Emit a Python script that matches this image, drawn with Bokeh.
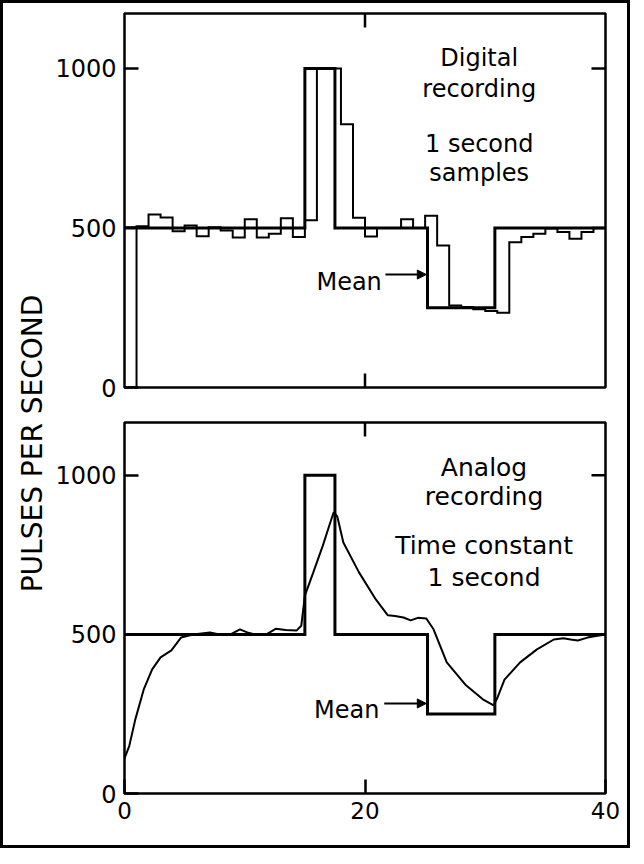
import numpy as np
from bokeh.plotting import figure
from bokeh.models import Range1d, LinearAxis, FixedTicker, Label, Arrow, NormalHead
from bokeh.layouts import row, column
from bokeh.embed import file_html
from bokeh.resources import INLINE

# ---------------- data ----------------
# 1-second digital samples (bin start times, pulses per second)
sample_t = [0, 1, 2, 3, 4, 5, 6, 7, 8, 9, 10, 11, 12, 13, 14, 15, 16, 17, 18, 19,
            20, 21, 22, 23, 24, 25, 26, 27, 28, 29, 30, 31, 32, 33, 34, 35, 36, 37, 38, 39, 40]
sample_v = [0, 505, 542, 533, 490, 508, 474, 502, 492, 470, 527, 470, 482, 530, 472, 524,
            1000, 1000, 825, 532, 473, 500, 500, 527, 500, 538, 445, 257, 252, 245, 240, 234,
            455, 472, 482, 498, 487, 466, 487, 500]

# true mean rate (step function)
mean_t = [0, 15, 17.5, 25.2, 30.8, 40]
mean_v = [500, 1000, 500, 250, 500]

# analog ratemeter trace (time constant 1 s)
analog_t = [0, 0.4, 0.9, 1.6, 2.3, 3.0, 3.9, 4.7, 5.7, 7.1, 7.9, 8.7, 9.6, 10.3, 11.0, 11.8,
            12.6, 13.4, 14.3, 14.7, 15.0, 15.7, 16.5, 17.2, 17.4, 17.7, 18.2, 19.5, 20.9, 21.9,
            22.5, 23.2, 23.8, 24.4, 25.1, 25.7, 26.8, 28.4, 29.8, 30.7, 31.0, 31.6, 32.9, 34.3,
            35.7, 36.5, 37.1, 37.7, 38.5, 39.2, 40.0]
analog_v = [110, 150, 233, 327, 390, 428, 450, 490, 500, 506, 500, 498, 516, 505, 498, 500,
            518, 514, 512, 527, 622, 695, 780, 862, 884, 870, 789, 695, 610, 560,
            558, 553, 544, 552, 550, 516, 412, 340, 296, 277, 300, 358, 412, 453,
            484, 488, 484, 481, 490, 495, 500]

y_ticks = [0, 500, 1000]
y_ticks_right = [500, 1000]
x_ticks = [0, 20, 40]
x_ticks_inner = [20]
x_min, x_max = 0, 40

top_notes = ["Digital", "recording", "1 second", "samples"]
bottom_notes = ["Analog", "recording", "Time constant", "1 second"]

FONT = "DejaVu Sans"
TICK_PX = 14


def style_axis(ax, size, standoff):
    ax.axis_line_color = None
    ax.major_tick_in = TICK_PX
    ax.major_tick_out = 0
    ax.major_tick_line_width = 2.5
    ax.major_tick_line_color = "black"
    ax.minor_tick_line_color = None
    ax.major_label_text_font = FONT
    ax.major_label_text_color = "black"
    ax.major_label_text_font_size = size
    ax.major_label_standoff = standoff


def make_panel(height, ymax, top, bottom, x_labels):
    p = figure(width=579, height=height,
               x_range=Range1d(x_min, x_max), y_range=Range1d(0, ymax),
               x_axis_type=None, y_axis_type=None,
               output_backend="svg", toolbar_location=None,
               min_border_left=76, min_border_right=22,
               min_border_top=top, min_border_bottom=bottom)
    p.outline_line_color = "black"
    p.outline_line_width = 2.5
    p.outline_line_alpha = 1.0
    p.background_fill_color = "white"
    p.border_fill_color = "white"

    left = LinearAxis(ticker=FixedTicker(ticks=y_ticks))
    style_axis(left, "24px", 8)
    p.add_layout(left, "left")

    if x_labels:
        below = LinearAxis(ticker=FixedTicker(ticks=x_ticks))
        style_axis(below, "23px", 8)
        p.add_layout(below, "below")
    else:
        # inward tick on the bottom edge (no labels)
        p.ray(x=x_ticks_inner, y=[0] * len(x_ticks_inner), length=TICK_PX,
              angle=np.pi / 2, length_units="screen",
              line_color="black", line_width=2.5)

    # inward ticks on the right and top edges (no labels)
    p.ray(x=[x_max] * len(y_ticks_right), y=y_ticks_right, length=TICK_PX,
          angle=np.pi, length_units="screen", line_color="black", line_width=2.5)
    p.ray(x=x_ticks_inner, y=[ymax] * len(x_ticks_inner), length=TICK_PX,
          angle=-np.pi / 2, length_units="screen", line_color="black", line_width=2.5)
    return p


# ---------------- top panel: digital ----------------
p1 = make_panel(401, 1172, 10, 17, False)
p1.step(x=sample_t, y=sample_v + [sample_v[-1]], mode="after",
        line_color="black", line_width=2, line_join="miter")
p1.step(x=mean_t, y=mean_v + [mean_v[-1]], mode="after",
        line_color="black", line_width=3, line_join="miter")

for txt, yv in zip(top_notes, [1034, 934, 762, 671]):
    p1.add_layout(Label(x=29.5, y=yv, text=txt, text_align="center",
                        text_baseline="alphabetic", text_font=FONT,
                        text_font_size="24px", text_color="black"))
p1.add_layout(Label(x=21.4, y=332, text="Mean", text_align="right",
                    text_baseline="alphabetic", text_font=FONT,
                    text_font_size="24px", text_color="black"))
p1.add_layout(Arrow(end=NormalHead(size=9, fill_color="black", line_color="black"),
                    x_start=21.7, y_start=354, x_end=25.1, y_end=354,
                    line_color="black", line_width=2))

# ---------------- bottom panel: analog ----------------
p2 = make_panel(441, 1166, 18, 52, True)
p2.step(x=mean_t, y=mean_v + [mean_v[-1]], mode="after",
        line_color="black", line_width=3, line_join="miter")
p2.line(x=analog_t, y=analog_v, line_color="black", line_width=2)

for txt, yv in zip(bottom_notes, [1026, 935, 779, 679]):
    p2.add_layout(Label(x=29.9, y=yv, text=txt, text_align="center",
                        text_baseline="alphabetic", text_font=FONT,
                        text_font_size="25px", text_color="black"))
p2.add_layout(Label(x=21.2, y=261, text="Mean", text_align="right",
                    text_baseline="alphabetic", text_font=FONT,
                    text_font_size="24px", text_color="black"))
p2.add_layout(Arrow(end=NormalHead(size=9, fill_color="black", line_color="black"),
                    x_start=21.6, y_start=283, x_end=25.1, y_end=283,
                    line_color="black", line_width=2))
p2.add_layout(Label(x=20, y=-118, text="SECONDS", text_align="center",
                    text_baseline="alphabetic", text_font=FONT,
                    text_font_size="24px", text_color="black"))

# ---------------- y-axis title strip ----------------
pt = figure(width=45, height=842, x_range=Range1d(0, 45), y_range=Range1d(0, 842),
            x_axis_type=None, y_axis_type=None, output_backend="svg",
            toolbar_location=None, min_border=0)
pt.outline_line_color = None
pt.background_fill_color = "white"
pt.border_fill_color = "white"
pt.add_layout(Label(x=29, y=402, text="PULSES PER SECOND", angle=np.pi / 2,
                    text_align="center", text_baseline="middle", text_font=FONT,
                    text_font_size="28px", text_color="black"))

layout = row(pt, column(p1, p2, spacing=0), spacing=0,
             styles={"border": "3px solid black", "background-color": "white"})

open("out.html", "w").write(file_html(layout, INLINE))
